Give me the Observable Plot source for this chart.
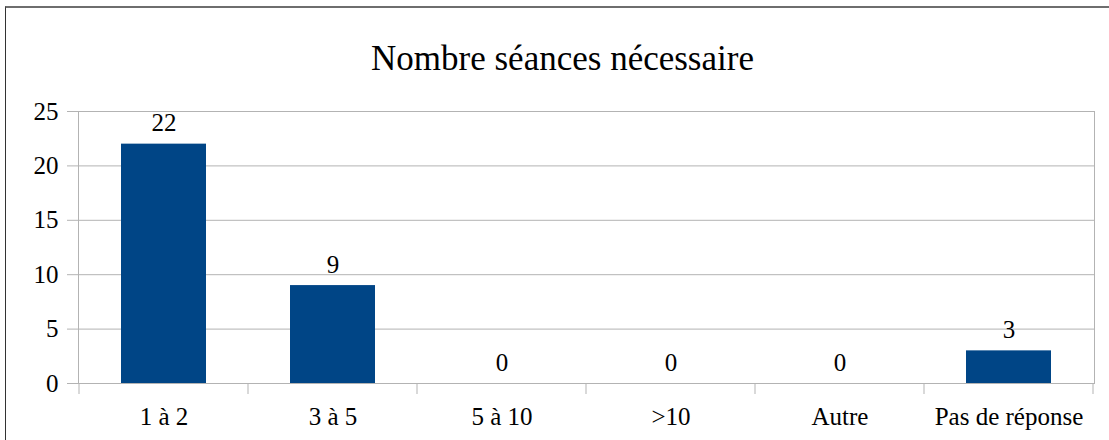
<!DOCTYPE html>
<html>
<head>
<meta charset="utf-8">
<script src="https://cdn.jsdelivr.net/npm/d3@7"></script>
<script src="https://cdn.jsdelivr.net/npm/@observablehq/plot@0.6"></script>
<style>
  html, body { margin: 0; padding: 0; background: #fff; }
  #wrap { position: relative; width: 1109px; height: 440px; overflow: hidden; }
  #border { position: absolute; left: 5px; top: 6px; width: 2000px; height: 2000px;
            border-left: 1px solid #333; border-top: 2px solid #6e6e6e; pointer-events: none; }
</style>
</head>
<body>
<div id="wrap"><div id="border"></div></div>
<script>
const title = "Nombre séances nécessaire";
const categories = ["1 à 2", "3 à 5", "5 à 10", ">10", "Autre", "Pas de réponse"];
const values = [22, 9, 0, 0, 0, 3];
const yTicks = [0, 5, 10, 15, 20, 25];

const data = categories.map((c, i) => ({category: c, value: values[i]}));
const font = "'Liberation Serif', 'Times New Roman', serif";
const grid = "#b3b3b3";

const chart = Plot.plot({
  width: 1109,
  height: 440,
  marginTop: 111,
  marginLeft: 78,
  marginRight: 15,
  marginBottom: 57,
  style: {fontFamily: font, fontSize: "25px", color: "#000", background: "transparent"},
  x: {domain: categories, paddingInner: 0.5, paddingOuter: 0.25, label: null},
  y: {domain: [0, 25], label: null},
  marks: [
    Plot.gridY(yTicks, {stroke: grid, strokeOpacity: 1}),
    Plot.frame({stroke: grid}),
    Plot.axisY(yTicks, {tickSize: 11, tickPadding: 9, stroke: grid, strokeOpacity: 1, fontSize: 25, label: null}),
    Plot.axisX({tickSize: 0, tickPadding: 24, fontSize: 25, label: null}),
    Plot.barY(data, {x: "category", y: "value", fill: "#004586"}),
    Plot.text(data, {x: "category", y: "value", text: d => String(d.value), lineAnchor: "bottom", dy: -13, fontSize: 25, fill: "#000"}),
    Plot.text([title], {frameAnchor: "top", dx: -24, dy: -42, lineAnchor: "bottom", text: d => d, fontSize: 35, fill: "#000"})
  ]
});

// category boundary ticks below the axis, from the band scale
const xs = chart.scale("x");
const ys = chart.scale("y");
const y0 = ys.apply(0);
const half = (xs.step - xs.bandwidth) / 2;
const bounds = categories.map(c => xs.apply(c) - half);
bounds.push(xs.apply(categories[categories.length - 1]) + xs.bandwidth + half);
const g = d3.select(chart).append("g").attr("stroke", grid);
g.selectAll("line").data(bounds).join("line")
  .attr("x1", d => d).attr("x2", d => d)
  .attr("y1", y0).attr("y2", y0 + 11);

document.getElementById("wrap").prepend(chart);
</script>
</body>
</html>
